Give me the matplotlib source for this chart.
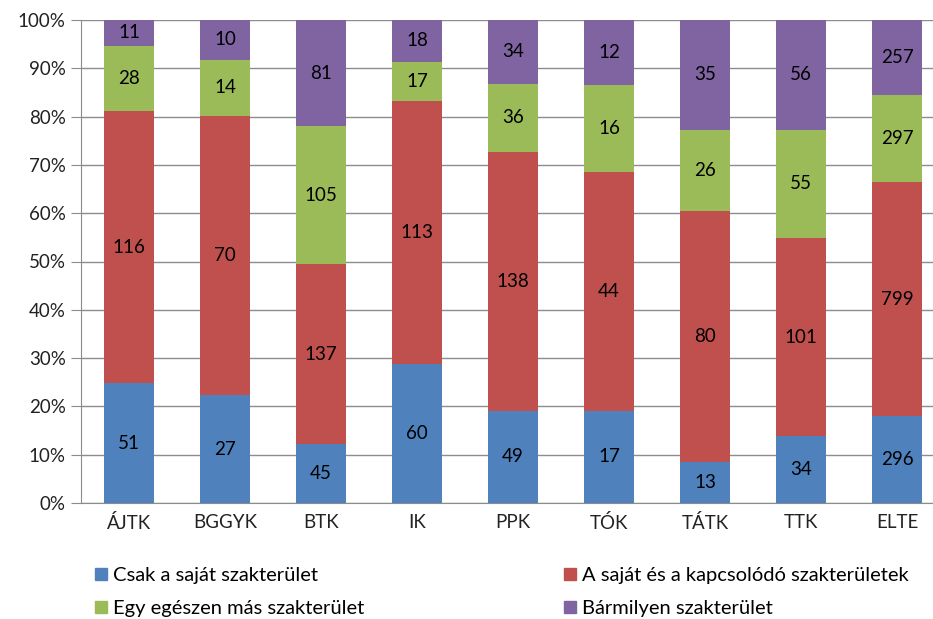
import matplotlib
matplotlib.use("Agg")
import matplotlib.pyplot as plt
from matplotlib.patches import Patch
import numpy as np

plt.rcParams['font.family'] = ['Lato', 'DejaVu Sans']

categories = ["ÁJTK", "BGGYK", "BTK", "IK", "PPK", "TÓK", "TÁTK", "TTK", "ELTE"]
series_names = ["Csak a saját szakterület",
                "A saját és a kapcsolódó szakterületek",
                "Egy egészen más szakterület",
                "Bármilyen szakterület"]
csak_sajat = [51, 27, 45, 60, 49, 17, 13, 34, 296]
sajat_kapcs = [116, 70, 137, 113, 138, 44, 80, 101, 799]
mas = [28, 14, 105, 17, 36, 16, 26, 55, 297]
barmilyen = [11, 10, 81, 18, 34, 12, 35, 56, 257]
y_ticklabels = ["0%", "10%", "20%", "30%", "40%", "50%", "60%", "70%", "80%", "90%", "100%"]

colors = ["#4F81BD", "#C0504D", "#9BBB59", "#8064A2"]

series = [csak_sajat, sajat_kapcs, mas, barmilyen]
counts = np.array(series, dtype=float)
totals = counts.sum(axis=0)
shares = counts / totals

fig = plt.figure(figsize=(9.33, 6.19), dpi=100)
ax = fig.add_axes([81/933, 116/619, 864/933, 483/619])

x = np.arange(len(categories))
bottom = np.zeros(len(categories))
handles = []
for i, (vals, sh) in enumerate(zip(series, shares)):
    bars = ax.bar(x, sh, width=0.52, bottom=bottom, color=colors[i], zorder=3)
    labels = [str(v) for v in vals]
    ax.bar_label(bars, labels=labels, label_type='center', fontsize=13.5, color='black')
    bottom += sh
    handles.append(Patch(color=colors[i]))

ax.set_xlim(-0.5, 8.5)
ax.set_ylim(0, 1)
ax.set_yticks(np.linspace(0, 1, 11))
ax.set_yticklabels(y_ticklabels, fontsize=13.5, color='#222222')
ax.set_xticks(x)
ax.set_xticklabels(categories, fontsize=13.5, color='#222222')
ax.yaxis.grid(True, color='#8C8C8C', linewidth=1, zorder=0)
for s in ['top', 'right']:
    ax.spines[s].set_visible(False)
ax.spines['left'].set_color('#8C8C8C')
ax.spines['bottom'].set_color('#8C8C8C')
ax.tick_params(axis='y', length=7, color='#8C8C8C', pad=4)
ax.tick_params(axis='x', length=0, pad=8)

leg_kw = dict(frameon=False, fontsize=14.5, handlelength=0.6, handleheight=0.6,
              handletextpad=0.3, labelspacing=0.8, borderaxespad=0, borderpad=0)
l1 = fig.legend([handles[0], handles[2]], [series_names[0], series_names[2]],
                loc='upper left', bbox_to_anchor=(95/933, 1 - 567/619), **leg_kw)
l2 = fig.legend([handles[1], handles[3]], [series_names[1], series_names[3]],
                loc='upper left', bbox_to_anchor=(564/933, 1 - 567/619), **leg_kw)

fig.savefig("out.png", dpi=100)
